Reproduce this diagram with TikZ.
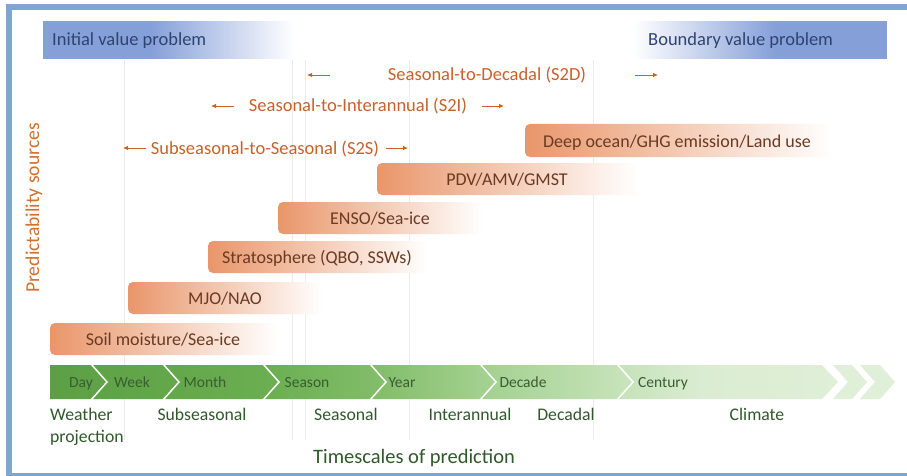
\documentclass[tikz,border=0pt]{standalone}
\usepackage{fontspec}
\setmainfont{Carlito}
\usetikzlibrary{arrows.meta}
\definecolor{frameblue}{HTML}{7FA6CF}
\definecolor{bannerblue}{HTML}{859FD9}
\definecolor{navy}{HTML}{2E4470}
\definecolor{barorange}{HTML}{E9966A}
\definecolor{bartextc}{HTML}{6A3A22}
\definecolor{arrorange}{HTML}{C8612A}
\definecolor{srcorange}{HTML}{D2702E}
\definecolor{gridc}{HTML}{EBEBEB}
\definecolor{greentext}{HTML}{2F5A2A}
\definecolor{chevtext}{HTML}{3A5C32}
\definecolor{gA}{HTML}{5C9F44}
\definecolor{gB}{HTML}{6AAE51}
\definecolor{gC}{HTML}{80BC67}
\definecolor{gD}{HTML}{A2D08E}
\definecolor{gE}{HTML}{C5E2B8}
\definecolor{gF}{HTML}{DAECD1}
\definecolor{gG}{HTML}{E0EFD8}
\pgfdeclarehorizontalshading{greenbar}{100bp}{color(0bp)=(gA); color(25bp)=(gA); color(38.5bp)=(gB); color(45.3bp)=(gC); color(52.3bp)=(gD); color(61bp)=(gE); color(66.2bp)=(gF); color(75bp)=(gG); color(100bp)=(gG)}
\tikzset{
  bartext/.style={text=bartextc, font=\fontsize{18}{18}\selectfont, inner sep=0pt, anchor=base},
  barshade/.style={left color=barorange, right color=white, rounded corners=5pt},
  arrlabel/.style={text=arrorange, font=\fontsize{18.5}{18.5}\selectfont, inner sep=0pt, anchor=base},
  arr/.style={draw=arrorange, line width=0.8pt, -{Latex[length=5pt,width=4.5pt]}},
  chevlabel/.style={text=chevtext, font=\fontsize{15.5}{15.5}\selectfont, inner sep=0pt, anchor=base},
  scalelabel/.style={text=greentext, font=\fontsize{17.7}{22}\selectfont, inner sep=0pt, anchor=base},
  bannertext/.style={text=navy, font=\fontsize{18.5}{18.5}\selectfont, inner sep=0pt, anchor=base west},
  gridline/.style={draw=gridc, line width=0.8pt},
  sep/.style={draw=white, line width=1.5pt}
}
\begin{document}
\begin{tikzpicture}[x=1pt,y=-1pt]
\useasboundingbox (0,0) rectangle (907,476);
\clip (0,0) rectangle (907,476);
\fill[white] (0,0) rectangle (907,476);
% frame
\draw[frameblue, line width=6pt] (9,7) rectangle (914,476);
% grid lines
\foreach \gx in {124,292,305,409,593} {\draw[gridline] (\gx,60) -- (\gx,440);}
% banners
\fill[bannerblue] (43,21) rectangle (151,59);
\foreach \i in {0,...,144} {\pgfmathsetmacro\p{100-\i/1.44}\fill[bannerblue!\p!white] (150+\i,21) rectangle (151.3+\i,59);}
\node[bannertext] (ivp) at (52,46) {Initial value problem};
\fill[bannerblue] (776,21) rectangle (887,59);
\foreach \i in {0,...,143} {\pgfmathsetmacro\p{\i/1.43}\fill[bannerblue!\p!white] (633+\i,21) rectangle (634.3+\i,59);}
\node[bannertext] (bvp) at (648,46) {Boundary value problem};
% arrows rows
\node[arrlabel] (s2d) at (487,81) {Seasonal-to-Decadal (S2D)};
\coordinate (s2dla) at (330,75); \coordinate (s2dlb) at (307,75);
\coordinate (s2dra) at (635,75); \coordinate (s2drb) at (658,75);
\draw[arr] (s2dla) -- (s2dlb);
\draw[arr] (s2dra) -- (s2drb);
\node[arrlabel] (s2i) at (358,112) {Seasonal-to-Interannual (S2I)};
\coordinate (s2ila) at (234,106); \coordinate (s2ilb) at (211,106);
\coordinate (s2ira) at (482,106); \coordinate (s2irb) at (504,106);
\draw[arr] (s2ila) -- (s2ilb);
\draw[arr] (s2ira) -- (s2irb);
\node[arrlabel] (s2s) at (265,154) {Subseasonal-to-Seasonal (S2S)};
\coordinate (s2sla) at (146,148); \coordinate (s2slb) at (123,148);
\coordinate (s2sra) at (386,148); \coordinate (s2srb) at (408,148);
\draw[arr] (s2sla) -- (s2slb);
\draw[arr] (s2sra) -- (s2srb);
% predictability bars
\shade[barshade] (525,124) rectangle (832,157);
\node[bartext] (deep) at (677,147) {Deep ocean/GHG emission/Land use};
\shade[barshade] (377,163) rectangle (637,195);
\node[bartext] (pdv) at (507,185) {PDV/AMV/GMST};
\shade[barshade] (278,202) rectangle (482,234);
\node[bartext] (enso) at (380,224) {ENSO/Sea-ice};
\shade[barshade] (208,241) rectangle (427,273);
\node[bartext] (strat) at (317,263) {Stratosphere (QBO, SSWs)};
\shade[barshade] (128,282) rectangle (322,314);
\node[bartext] (mjo) at (225,304) {MJO/NAO};
\shade[barshade] (50,323) rectangle (278,355);
\node[bartext] (soil) at (163,345) {Soil moisture/Sea-ice};
% predictability label
\node[text=srcorange, font=\fontsize{19.6}{19.6}\selectfont, rotate=90, inner sep=0pt, anchor=base] (src) at (39,208) {Predictability sources};
% timescale chevron bar
\shade[shading=greenbar] (50,365) -- (822,365) -- (838,382) -- (822,399) -- (50,399) -- cycle;
\fill[gG] (833,365) -- (852,365) -- (867,382) -- (852,399) -- (833,399) -- (848,382) -- cycle;
\fill[gG] (860,365) -- (880,365) -- (895,382) -- (880,399) -- (860,399) -- (875,382) -- cycle;
\foreach \sx in {91,163,263,370,480,617} {\draw[sep] (\sx,364) -- (\sx+16,382) -- (\sx,400);}
\node[chevlabel] (day) at (81,387.5) {Day};
\node[chevlabel] (week) at (132,387.5) {Week};
\node[chevlabel] (month) at (205,387.5) {Month};
\node[chevlabel] (season) at (307,387.5) {Season};
\node[chevlabel] (year) at (402,387.5) {Year};
\node[chevlabel] (decade) at (523,387.5) {Decade};
\node[chevlabel] (century) at (663,387.5) {Century};
% timescale labels
\node[scalelabel, align=left, anchor=base west] (weather) at (50,442) {Weather\\projection};
\node[scalelabel] (subs) at (202,420) {Subseasonal};
\node[scalelabel] (seas) at (346,420) {Seasonal};
\node[scalelabel] (inter) at (470,420) {Interannual};
\node[scalelabel] (deca) at (566,420) {Decadal};
\node[scalelabel] (clim) at (757,420) {Climate};
\node[text=greentext, font=\fontsize{20.5}{20.5}\selectfont, inner sep=0pt, anchor=base] (tsp) at (414,463) {Timescales of prediction};
\end{tikzpicture}
\end{document}
